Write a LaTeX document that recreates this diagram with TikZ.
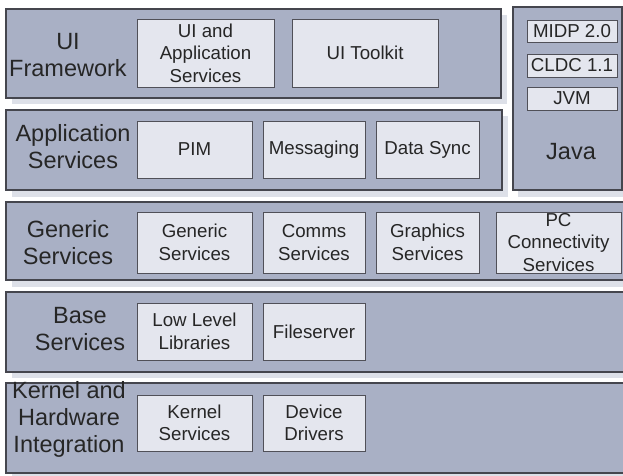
\documentclass[tikz,border=0pt]{standalone}
\usepackage{fontspec}
\setmainfont{Liberation Sans}
\definecolor{bandfill}{HTML}{A9B0C5}
\definecolor{bandline}{HTML}{45464E}
\definecolor{shadowfill}{HTML}{DDE0E8}
\definecolor{compfill}{HTML}{E4E6EE}
\definecolor{compline}{HTML}{505058}
\definecolor{textcol}{HTML}{262626}

\begin{document}
\begin{tikzpicture}[x = 1pt, y = -1pt, line join = miter,
  band/.style = {draw = bandline, fill = bandfill, line width = 1.1pt},
  bandshadow/.style = {fill = shadowfill},
  comp/.style = {draw = compline, fill = compfill, line width = 0.8pt,
  inner sep = 0pt, align = center, text = textcol,
  font = \fontsize{18.7}{22.5}\selectfont},
  layer/.style = {align = center, text = textcol, inner sep = 0pt,
  font = \fontsize{23.5}{27}\selectfont}]
  \useasboundingbox (0, 0) rectangle (623, 475);

  % shadows
  \fill[bandshadow] (12, 15) rectangle (507, 104);
  \fill[bandshadow] (12, 116) rectangle (508, 197);
  \fill[bandshadow] (518, 13) rectangle (628, 197);
  \fill[bandshadow] (12, 208) rectangle (631, 287);
  \fill[bandshadow] (12, 298) rectangle (631, 378);
  \fill[bandshadow] (12, 389) rectangle (631, 479);

  % layers
  \draw[band] (6, 9) rectangle (501, 98);
  \draw[band] (6, 110) rectangle (502, 190);
  \draw[band] (513, 7) rectangle (622, 190);
  \draw[band] (6, 202) rectangle (625, 280);
  \draw[band] (6, 292) rectangle (625, 372);
  \draw[band] (6, 383) rectangle (625, 473);

  \node[layer] (uifw) at (68, 55) {UI\\Framework};
  \node[layer] (appsvc) at (73, 147) {Application\\Services};
  \node[layer] (java) at (571, 152) {Java};
  \node[layer] (gensvc) at (68, 243) {Generic\\Services};
  \node[layer] (basesvc) at (80, 329) {Base\\Services};
  \node[layer] (kernhw) at (69, 419) {Kernel and\\Hardware\\Integration};

  % UI framework
  \node[comp, minimum width = 137, minimum height = 68] (uiapp)
  at (205.5, 53) {UI and\\Application\\Services};
  \node[comp, minimum width = 146, minimum height = 68] (uitoolkit)
  at (365, 53) {UI Toolkit};

  % java
  \node[comp, minimum width = 90, minimum height = 22] (midp)
  at (572, 31) {MIDP 2.0};
  \node[comp, minimum width = 90, minimum height = 23] (cldc)
  at (572, 65.5) {CLDC 1.1};
  \node[comp, minimum width = 90, minimum height = 23] (jvm)
  at (572, 98.5) {JVM};

  % application services
  \node[comp, minimum width = 115, minimum height = 57] (pim)
  at (194.5, 149.5) {PIM};
  \node[comp, minimum width = 102, minimum height = 57] (messaging)
  at (314, 149.5) {Messaging};
  \node[comp, minimum width = 103, minimum height = 57] (datasync)
  at (427.5, 149.5) {Data Sync};

  % generic services
  \node[comp, minimum width = 115, minimum height = 61] (genericsvc)
  at (194.5, 242.5) {Generic\\Services};
  \node[comp, minimum width = 102, minimum height = 61] (commssvc)
  at (314, 242.5) {Comms\\Services};
  \node[comp, minimum width = 103, minimum height = 61] (graphicssvc)
  at (427.5, 242.5) {Graphics\\Services};
  \node[comp, minimum width = 125, minimum height = 61] (pcconn)
  at (558.5, 242.5) {};
  \node[comp, draw = none, fill = none] (pcconntext)
  at (pcconn) {PC\\Connectivity\\Services};

  % base services
  \node[comp, minimum width = 115, minimum height = 57] (lowlevel)
  at (194.5, 331.5) {Low Level\\Libraries};
  \node[comp, minimum width = 102, minimum height = 57] (fileserver)
  at (314, 331.5) {Fileserver};

  % kernel
  \node[comp, minimum width = 115, minimum height = 56] (kernelsvc)
  at (194.5, 423) {Kernel\\Services};
  \node[comp, minimum width = 102, minimum height = 56] (drivers)
  at (314, 423) {Device\\Drivers};
\end{tikzpicture}
\end{document}
